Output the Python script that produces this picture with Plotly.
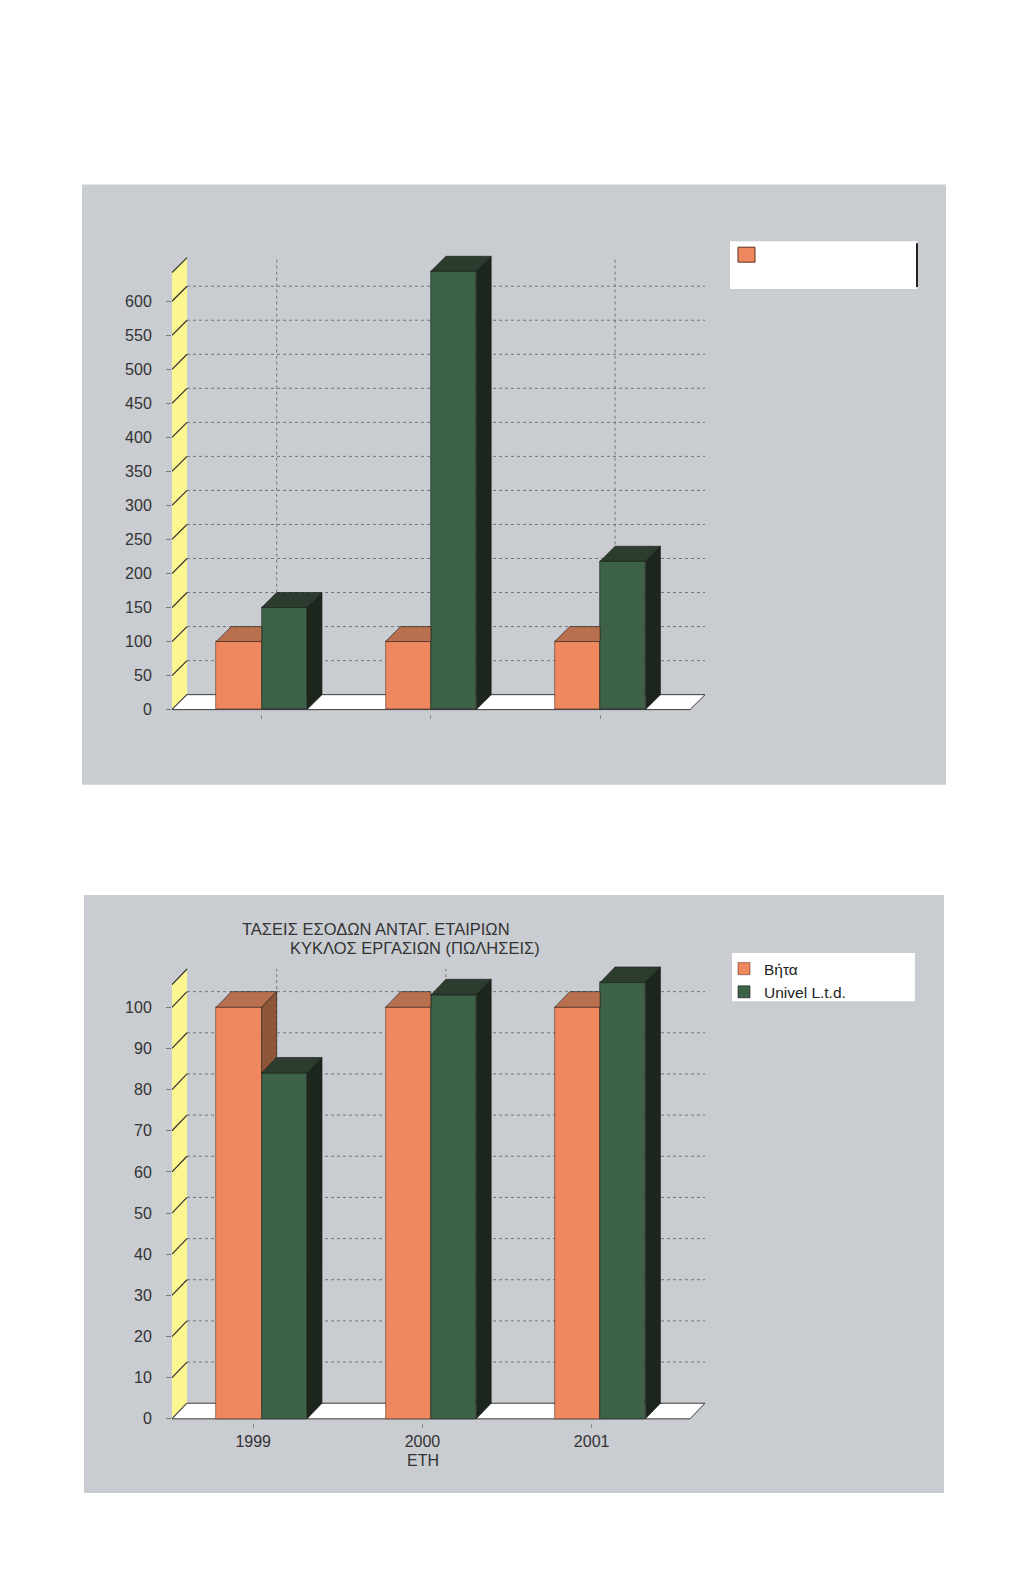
import plotly.graph_objects as go

W, H = 1024, 1569

# ---------------- data ----------------
years = ["1999", "2000", "2001"]
series_names = ["Βήτα", "Univel L.t.d."]
beta_top = [100, 100, 100]
univel_top = [150, 644, 218]
beta_bottom = [100, 100, 100]
univel_bottom = [84, 103, 106]
ticks_top = list(range(0, 601, 50))
ticks_bottom = list(range(0, 101, 10))
title_lines = ["ΤΑΣΕΙΣ ΕΣΟΔΩΝ ΑΝΤΑΓ. ΕΤΑΙΡΙΩΝ", "ΚΥΚΛΟΣ ΕΡΓΑΣΙΩΝ (ΠΩΛΗΣΕΙΣ)"]
x_title = "ΕΤΗ"

# ---------------- style ----------------
FONT = "Liberation Sans, Arial, sans-serif"
PANEL = "#c9ccd1"
OR_FRONT, OR_TOP, OR_SIDE = "#f0885f", "#b8704f", "#8e5638"
GR_FRONT, GR_TOP, GR_SIDE = "#3d6247", "#2c3c2e", "#1c261d"
WALL = "#fcf690"
GRID = "#73767b"
BW = 0.268
XMIN, XMAX = -0.53, 2.62
DX = 15 / 169.2


def px_x(p):
    return p / W


def px_y(p):
    p = p + max(0.0, p - 300) * 0.0048  # small calibration of the page
    return 1 - p / H


fig = go.Figure()
shapes = []
annotations = []

# panels
for (x0, y0, x1, y1) in [(82, 185, 946, 785), (84, 895, 944, 1492)]:
    shapes.append(dict(type="rect", xref="paper", yref="paper", layer="below",
                       x0=px_x(x0), x1=px_x(x1), y0=px_y(y1), y1=px_y(y0),
                       fillcolor=PANEL, line=dict(width=0)))


def poly_trace(polys, color, xa, ya):
    xs, ys = [], []
    for p in polys:
        for (a, b) in p:
            xs.append(a)
            ys.append(b)
        xs.append(p[0][0])
        ys.append(p[0][1])
        xs.append(None)
        ys.append(None)
    return go.Scatter(x=xs, y=ys, mode="lines", fill="toself", fillcolor=color,
                      line=dict(color="#1a1a1a", width=0.6), hoverinfo="skip",
                      showlegend=False, xaxis=xa, yaxis=ya)


def add_chart(xa, ya, beta, univel, ticks, dy, wall_top, legend):
    idx = list(range(len(years)))
    # back wall gridlines (horizontal)
    for t in ticks[1:]:
        shapes.append(dict(type="line", xref=xa, yref=ya, layer="below",
                           x0=XMIN + DX, x1=XMAX, y0=t + dy, y1=t + dy,
                           line=dict(color=GRID, width=1, dash="dot")))
    # vertical gridlines
    for i in idx:
        shapes.append(dict(type="line", xref=xa, yref=ya, layer="below",
                           x0=i + DX, x1=i + DX, y0=dy, y1=wall_top + dy,
                           line=dict(color=GRID, width=1, dash="dot")))
    # yellow side wall
    shapes.append(dict(type="path", xref=xa, yref=ya, layer="below",
                       path=f"M{XMIN},0 L{XMIN + DX},{dy} L{XMIN + DX},{wall_top + dy} L{XMIN},{wall_top} Z",
                       fillcolor=WALL, line=dict(width=0)))
    for t in ticks + [wall_top]:
        shapes.append(dict(type="line", xref=xa, yref=ya, layer="below",
                           x0=XMIN, x1=XMIN + DX, y0=t, y1=t + dy,
                           line=dict(color="#333333", width=1.2)))
    # floor
    shapes.append(dict(type="path", xref=xa, yref=ya, layer="below",
                       path=f"M{XMIN},0 L{XMAX - DX},0 L{XMAX},{dy} L{XMIN + DX},{dy} Z",
                       fillcolor="#ffffff", line=dict(color="#3a3a3a", width=1)))
    # bars (front faces)
    fig.add_trace(go.Bar(x=idx, y=beta, offset=-BW, width=BW, name=series_names[0],
                         marker=dict(color=OR_FRONT, line=dict(color="#5a3020", width=0.6)),
                         showlegend=legend, legendgroup="b", xaxis=xa, yaxis=ya))
    fig.add_trace(go.Bar(x=idx, y=univel, offset=0, width=BW, name=series_names[1],
                         marker=dict(color=GR_FRONT, line=dict(color="#1a1a1a", width=0.6)),
                         showlegend=legend, legendgroup="u", xaxis=xa, yaxis=ya))
    # 3D faces derived from the values
    o_top, o_side, g_top, g_side = [], [], [], []
    for i, o, g in zip(idx, beta, univel):
        xl, xm, xg = i - BW, i, i + BW
        if g >= o:
            o_top.append([(xl, o), (xm, o), (xm, o + dy), (xl + DX, o + dy)])
        else:
            o_top.append([(xl, o), (xm, o), (xm + DX, o + dy), (xl + DX, o + dy)])
            o_side.append([(xm, g), (xm + DX, g + dy), (xm + DX, o + dy), (xm, o)])
        g_top.append([(xm, g), (xg, g), (xg + DX, g + dy), (xm + DX, g + dy)])
        g_side.append([(xg, 0), (xg + DX, dy), (xg + DX, g + dy), (xg, g)])
    for polys, col in [(o_top, OR_TOP), (o_side, OR_SIDE), (g_top, GR_TOP), (g_side, GR_SIDE)]:
        if polys:
            fig.add_trace(poly_trace(polys, col, xa, ya))


# chart 1: 0 at y=710 px, 0.68 px/unit
add_chart("x", "y", beta_top, univel_top, ticks_top, dy=22, wall_top=642, legend=False)
# chart 2: 0 at y=1418 px, 4.11 px/unit
add_chart("x2", "y2", beta_bottom, univel_bottom, ticks_bottom, dy=3.8, wall_top=105.5, legend=True)

axis_font = dict(family=FONT, size=16, color="#333333")
common_y = dict(showgrid=False, zeroline=False, showline=False, ticks="outside", ticklen=5,
                tickcolor="#7a7a7a", tickfont=axis_font, ticklabelstandoff=11)
common_x = dict(showgrid=False, zeroline=False, showline=False, range=[XMIN, XMAX])

fig.update_layout(
    width=W, height=H,
    margin=dict(l=0, r=0, t=0, b=0),
    paper_bgcolor="#ffffff", plot_bgcolor="rgba(0,0,0,0)",
    barmode="overlay", bargap=0,
    font=dict(family=FONT),
    xaxis=dict(**common_x, domain=[px_x(172), px_x(705)], anchor="y",
               tickvals=[0, 1, 2], ticktext=years, showticklabels=False,
               ticks="outside", ticklen=4, tickcolor="#8a8a8a"),
    yaxis=dict(**common_y, domain=[px_y(714), px_y(253)], anchor="x",
               range=[-6, 672], tickvals=ticks_top),
    xaxis2=dict(**common_x, domain=[px_x(172), px_x(705)], anchor="y2",
                tickvals=[-0.05, 0.95, 1.95], ticktext=years, tickfont=axis_font,
                ticks="outside", ticklen=4, tickcolor="#8a8a8a"),
    yaxis2=dict(**common_y, domain=[px_y(1422), px_y(966)], anchor="x2",
                range=[-0.97, 110], tickvals=ticks_bottom),
    legend=dict(x=px_x(724), y=px_y(952), xanchor="left", yanchor="top",
                bgcolor="rgba(0,0,0,0)", borderwidth=0, itemwidth=30,
                font=dict(family=FONT, size=15.5, color="#222222"),
                tracegroupgap=0),
)

# legend boxes
shapes.append(dict(type="rect", xref="paper", yref="paper", layer="below",
                   x0=px_x(732), x1=px_x(915), y0=px_y(1001), y1=px_y(953),
                   fillcolor="#ffffff", line=dict(width=0)))
shapes.append(dict(type="rect", xref="paper", yref="paper", layer="below",
                   x0=px_x(730), x1=px_x(917), y0=px_y(290), y1=px_y(242),
                   fillcolor="#ffffff", line=dict(width=0)))
shapes.append(dict(type="line", xref="paper", yref="paper",
                   x0=px_x(917), x1=px_x(917), y0=px_y(288), y1=px_y(244),
                   line=dict(color="#222222", width=2)))
shapes.append(dict(type="rect", xref="paper", yref="paper",
                   x0=px_x(738), x1=px_x(755), y0=px_y(263), y1=px_y(248),
                   fillcolor=OR_FRONT, line=dict(color="#5a3020", width=1)))

# chart 2 title and x title
annotations.append(dict(text=title_lines[0], xref="paper", yref="paper",
                        x=px_x(240), y=px_y(929), xanchor="left", yanchor="middle",
                        showarrow=False, font=dict(family=FONT, size=16.5, color="#333333")))
annotations.append(dict(text=title_lines[1], xref="paper", yref="paper",
                        x=px_x(288), y=px_y(948), xanchor="left", yanchor="middle",
                        showarrow=False, font=dict(family=FONT, size=16.5, color="#333333")))
annotations.append(dict(text=x_title, xref="paper", yref="paper",
                        x=px_x(423), y=px_y(1460), xanchor="center", yanchor="middle",
                        showarrow=False, font=axis_font))

fig.update_layout(shapes=shapes, annotations=annotations)
fig.write_html("out.html", config={"displayModeBar": False},
               post_script="document.body.style.margin='0';")
